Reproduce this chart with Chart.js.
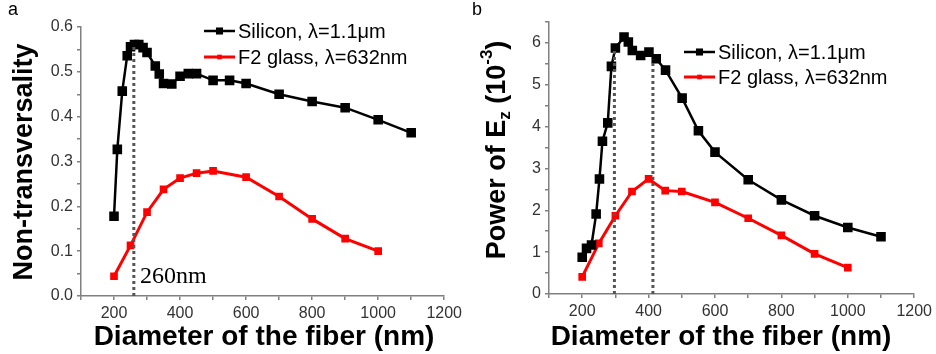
<!DOCTYPE html>
<html>
<head>
<meta charset="utf-8">
<script src="https://cdn.jsdelivr.net/npm/chart.js@4"></script>
<style>
  body { margin: 0; background: #fff; width: 936px; height: 354px; overflow: hidden; position: relative; }
  .panel { position: absolute; top: 0; height: 354px; }
</style>
</head>
<body>
<div class="panel" style="left:0;width:466px"><canvas id="chartA"></canvas></div>
<div class="panel" style="left:466px;width:470px"><canvas id="chartB"></canvas></div>
<script>
// panel a: non-transversality vs diameter
const siA_d = [200, 210, 225, 240, 250, 262, 275, 288, 300, 325, 337, 350, 375, 400, 425, 450, 500, 550, 600, 700, 800, 900, 1000, 1100];
const siA_v = [0.178, 0.327, 0.457, 0.536, 0.556, 0.561, 0.561, 0.554, 0.543, 0.513, 0.495, 0.474, 0.473, 0.490, 0.496, 0.496, 0.481, 0.481, 0.474, 0.450, 0.434, 0.420, 0.393, 0.364];
const f2A_d = [200, 250, 300, 350, 400, 450, 500, 600, 700, 800, 900, 1000];
const f2A_v = [0.044, 0.113, 0.187, 0.238, 0.263, 0.274, 0.279, 0.265, 0.222, 0.172, 0.128, 0.100];
const markA = [[260, 0.561]];

// panel b: power of Ez (1e-3) vs diameter
const siB_d = [200, 213, 228, 242, 252, 261, 277, 288, 300, 326, 339, 351, 376, 401, 423, 451, 501, 550, 600, 700, 800, 900, 1000, 1100];
const siB_v = [0.88, 1.09, 1.17, 1.91, 2.75, 3.65, 4.09, 5.44, 5.88, 6.14, 6.02, 5.82, 5.70, 5.78, 5.62, 5.35, 4.68, 3.90, 3.39, 2.73, 2.25, 1.87, 1.59, 1.37];
const f2B_d = [200, 250, 300, 350, 400, 450, 500, 600, 700, 800, 900, 1000];
const f2B_v = [0.41, 1.21, 1.87, 2.45, 2.75, 2.47, 2.45, 2.19, 1.81, 1.40, 0.96, 0.63];
const markB = [[297, 5.88], [413, 5.60]];

const siLabel = 'Silicon, \u03bb=1.1\u03bcm';
const f2Label = 'F2 glass, \u03bb=632nm';
const xTitle = 'Diameter of the fiber (nm)';

const sans = "'Liberation Sans', Arial, sans-serif";
const axisGray = '#808080';

function pts(xs, ys) {
  return xs.map((x, i) => ({ x: x, y: ys[i] }));
}

function series(label, xs, ys, color, r, w) {
  return {
    label: label, data: pts(xs, ys),
    borderColor: color, backgroundColor: color, borderWidth: w,
    pointStyle: 'rect', pointRadius: r, pointHoverRadius: r,
    tension: 0, showLine: true
  };
}

function dotted(m) {
  return {
    label: '', data: [{ x: m[0], y: 0 }, { x: m[0], y: m[1] }],
    borderColor: '#555', borderWidth: 3, borderDash: [3, 3],
    pointRadius: 0, showLine: true, order: -1
  };
}

function xAxis(h) {
  return {
    type: 'linear', min: 100, max: 1200,
    border: { color: axisGray, width: 1.5 },
    grid: { drawOnChartArea: false, tickLength: 4, color: axisGray, lineWidth: 1.5 },
    ticks: {
      stepSize: 100, autoSkip: false, maxRotation: 0, padding: 4, color: '#333',
      font: { family: sans, size: 16 },
      callback: v => (v % 200 === 0 ? v : '')
    },
    afterFit: s => { s.height = h; }
  };
}

function yAxis(max, step, major, digits, w) {
  return {
    type: 'linear', min: 0, max: max,
    border: { color: axisGray, width: 1.5 },
    grid: { drawOnChartArea: false, tickLength: 4, color: axisGray, lineWidth: 1.5 },
    ticks: {
      stepSize: step, autoSkip: false, padding: 4, color: '#333',
      font: { family: sans, size: 16 },
      callback: v => {
        const k = v / major;
        return Math.abs(k - Math.round(k)) < 1e-6 ? v.toFixed(digits) : '';
      }
    },
    afterFit: s => { s.width = w; }
  };
}

// legend, titles, panel letter and notes drawn on the canvas
const decor = {
  id: 'decor',
  afterDraw(chart, args, o) {
    const ctx = chart.ctx;
    ctx.save();
    ctx.fillStyle = '#000';
    ctx.textBaseline = 'alphabetic';
    ctx.font = '18px ' + sans;
    ctx.fillText(o.letter, o.letterX, 15);

    // legend
    ctx.textBaseline = 'middle';
    ctx.font = '20px ' + sans;
    o.rows.forEach((y, i) => {
      const ds = chart.data.datasets[i];
      ctx.strokeStyle = ds.borderColor;
      ctx.lineWidth = ds.borderWidth;
      ctx.beginPath();
      ctx.moveTo(o.legX, y);
      ctx.lineTo(o.legX + 31, y);
      ctx.stroke();
      const side = ds.pointRadius * Math.SQRT2;
      ctx.fillStyle = ds.borderColor;
      ctx.fillRect(o.legX + 15.5 - side / 2, y - side / 2, side, side);
      ctx.fillStyle = '#000';
      ctx.fillText(ds.label, o.legX + 34, y + 1);
    });

    // x title
    ctx.textAlign = 'center';
    ctx.font = 'bold 28px ' + sans;
    ctx.fillText(xTitle, o.xTitleX, 337);

    // y title (rotated, may hold sub/superscripts)
    ctx.translate(o.yTitleX, o.yTitleY);
    ctx.rotate(-Math.PI / 2);
    ctx.textAlign = 'left';
    let total = 0;
    o.yTitle.forEach(p => {
      ctx.font = 'bold ' + p.s + 'px ' + sans;
      p.w = ctx.measureText(p.t).width;
      total += p.w;
    });
    let x = -total / 2;
    o.yTitle.forEach(p => {
      ctx.font = 'bold ' + p.s + 'px ' + sans;
      ctx.fillText(p.t, x, p.dy || 0);
      x += p.w;
    });
    ctx.restore();

    if (o.note) {
      ctx.save();
      ctx.fillStyle = '#000';
      ctx.font = "24px 'Liberation Serif', 'Times New Roman', serif";
      ctx.textBaseline = 'alphabetic';
      ctx.fillText(o.note, 140, 283);
      ctx.restore();
    }
  }
};

function makeChart(id, datasets, scales, pad, opts) {
  return new Chart(document.getElementById(id), {
    type: 'scatter',
    data: { datasets: datasets },
    options: {
      responsive: true, maintainAspectRatio: false, animation: false,
      layout: { padding: pad },
      scales: scales,
      plugins: { legend: { display: false }, tooltip: { enabled: false }, decor: opts }
    },
    plugins: [decor]
  });
}

makeChart('chartA',
  [series(siLabel, siA_d, siA_v, '#000', 5, 2.5),
   series(f2Label, f2A_d, f2A_v, '#ff0000', 3.3, 3)].concat(markA.map(dotted)),
  { x: xAxis(58), y: yAxis(0.6, 0.05, 0.1, 1, 81) },
  { left: 0, top: 27, right: 19, bottom: 0 },
  { letter: 'a', letterX: 8, rows: [31, 57], legX: 204, xTitleX: 264, yTitleX: 25, yTitleY: 162,
    yTitle: [{ t: 'Non-transversality', s: 27 }], note: '260nm' });

makeChart('chartB',
  [series(siLabel, siB_d, siB_v, '#000', 5, 2.5),
   series(f2Label, f2B_d, f2B_v, '#ff0000', 3.3, 3)].concat(markB.map(dotted)),
  { x: xAxis(60), y: yAxis(6.5, 0.5, 1, 0, 83) },
  { left: 0, top: 22, right: 20, bottom: 0 },
  { letter: 'b', letterX: 6, rows: [52, 77], legX: 218, xTitleX: 255, yTitleX: 32, yTitleY: 150,
    yTitle: [{ t: 'Power of E', s: 27 }, { t: 'z', s: 17, dy: 7 }, { t: ' (10', s: 27 },
             { t: '-3', s: 17, dy: -11 }, { t: ')', s: 27 }] });
</script>
</body>
</html>
